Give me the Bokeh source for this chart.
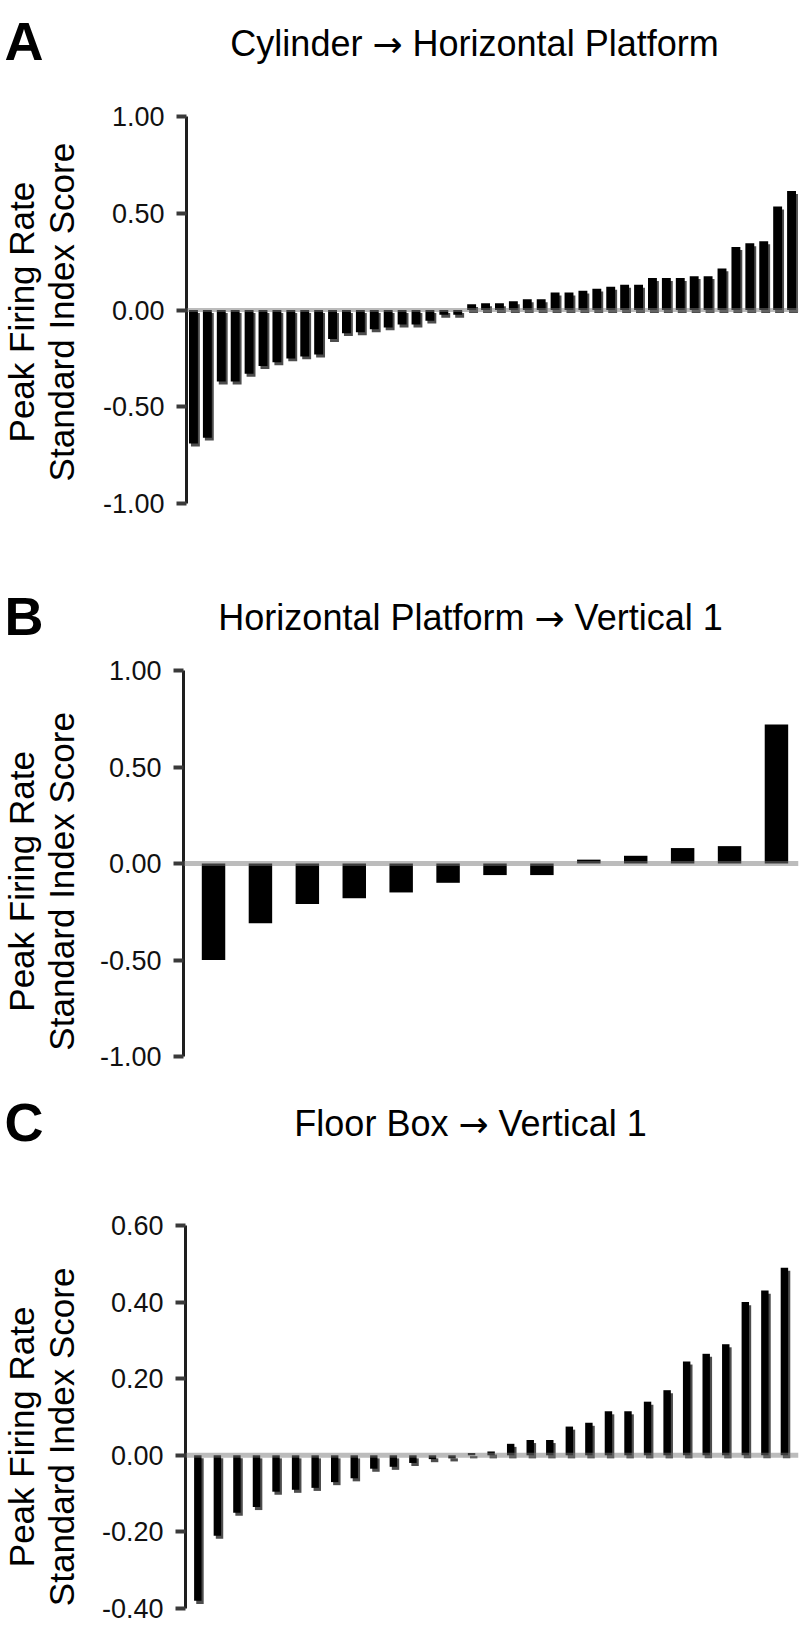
import math
from bokeh.plotting import figure
from bokeh.models import Range1d, FixedTicker, NumeralTickFormatter, Span, ColumnDataSource
from bokeh.layouts import column, row
from bokeh.core.properties import value
from bokeh.embed import file_html
from bokeh.resources import INLINE

FONT = "Liberation Sans"
ARROW_FONT = "DejaVu Sans"

# ---------------- data ----------------
a_values = [-0.69, -0.66, -0.37, -0.37, -0.33, -0.29, -0.27, -0.25, -0.24, -0.23,
            -0.15, -0.12, -0.115, -0.10, -0.09, -0.075, -0.075, -0.055, -0.025, -0.025,
            0.03, 0.035, 0.035, 0.045, 0.055, 0.055, 0.09, 0.09, 0.10, 0.11,
            0.12, 0.13, 0.13, 0.165, 0.165, 0.165, 0.175, 0.175, 0.215, 0.325,
            0.345, 0.355, 0.535, 0.615]
b_values = [-0.50, -0.31, -0.21, -0.18, -0.15, -0.10, -0.06, -0.06, 0.02, 0.04, 0.08, 0.09, 0.72]
c_values = [-0.38, -0.21, -0.15, -0.135, -0.095, -0.09, -0.085, -0.07, -0.06, -0.035,
            -0.03, -0.02, -0.01, -0.008, 0.006, 0.01, 0.03, 0.04, 0.04, 0.075,
            0.085, 0.115, 0.115, 0.14, 0.17, 0.245, 0.265, 0.29, 0.40, 0.43, 0.49]

ab_ticks = [-1.0, -0.5, 0.0, 0.5, 1.0]
c_ticks = [-0.4, -0.2, 0.0, 0.2, 0.4, 0.6]

panel_letters = ["A", "B", "C"]
title_from = ["Cylinder", "Horizontal Platform", "Floor Box"]
title_to = ["Horizontal Platform", "Vertical 1", "Vertical 1"]
ARROW = "\u2192"
ylabel_lines = ["Peak Firing Rate", "Standard Index Score"]

PAGE_W = 800
LABEL_W = 90
TITLE_PX = 36

# Arial / Liberation Sans advance widths (em) used only to lay the title pieces out
_W = {" ": .278, "A": .667, "B": .667, "C": .722, "F": .611, "H": .722, "P": .667, "V": .667,
      "a": .556, "c": .5, "d": .556, "e": .556, "f": .278, "i": .222, "l": .222, "m": .833,
      "n": .556, "o": .556, "r": .333, "t": .278, "x": .5, "y": .5, "z": .5, "1": .556}


def text_w(s, px):
    return sum(_W.get(ch, .556) for ch in s) * px


def bare_fig(w, h, x0, x1, y_bottom, y_top):
    f = figure(width=w, height=h, x_range=Range1d(x0, x1), y_range=Range1d(y_bottom, y_top),
               x_axis_location=None, y_axis_location=None, toolbar_location=None,
               output_backend="svg", tools="", min_border=0)
    f.min_border_left = f.min_border_right = f.min_border_top = f.min_border_bottom = 0
    f.outline_line_color = None
    f.xgrid.visible = False
    f.ygrid.visible = False
    return f


def header(page_top, h, letter, t_from, t_to, letter_y, title_y, title_cx):
    f = bare_fig(PAGE_W, h, 0, PAGE_W, page_top + h, page_top)
    f.text(x=[4], y=[letter_y], text=[letter], text_font=value(FONT),
           text_font_size=value("54px"), text_font_style=value("bold"),
           text_align=value("left"), text_baseline=value("alphabetic"), text_color="#000000")
    wl = text_w(t_from, TITLE_PX)
    wr = text_w(t_to, TITLE_PX)
    sp = text_w(" ", TITLE_PX)
    wa = 0.838 * TITLE_PX
    x0 = title_cx - (wl + wr + 2 * sp + wa) / 2.0
    f.text(x=[x0], y=[title_y], text=[t_from], text_font=value(FONT),
           text_font_size=value("%dpx" % TITLE_PX), text_align=value("left"),
           text_baseline=value("alphabetic"), text_color="#000000")
    f.text(x=[x0 + wl + sp + wa / 2.0], y=[title_y + 1], text=[ARROW], text_font=value(ARROW_FONT),
           text_font_size=value("%dpx" % TITLE_PX), text_align=value("center"),
           text_baseline=value("alphabetic"), text_color="#000000")
    f.text(x=[x0 + wl + 2 * sp + wa], y=[title_y], text=[t_to], text_font=value(FONT),
           text_font_size=value("%dpx" % TITLE_PX), text_align=value("left"),
           text_baseline=value("alphabetic"), text_color="#000000")
    return f


def body(vals, ticks, yr, xr, page_top, h, frame_left, frame_top, frame_bottom,
         bar_w, sh_dx, sh_dy, zero_w):
    lf = bare_fig(LABEL_W, h, 0, LABEL_W, page_top + h, page_top)
    ymid = (frame_top + frame_bottom) / 2.0 + 23
    lf.text(x=[21, 61], y=[ymid, ymid], text=ylabel_lines, angle=math.pi / 2,
            text_font=value(FONT), text_font_size=value("35px"),
            text_align=value("center"), text_baseline=value("alphabetic"), text_color="#000000")

    bl = frame_left - LABEL_W
    fw = PAGE_W - 2 - frame_left
    bt = frame_top - page_top
    fh = frame_bottom - frame_top
    bb = h - bt - fh
    p = figure(width=PAGE_W - LABEL_W, height=h,
               frame_width=fw, frame_height=fh,
               min_border_left=bl, min_border_right=2,
               min_border_top=bt, min_border_bottom=bb,
               x_range=Range1d(*xr), y_range=Range1d(*yr),
               x_axis_location=None, toolbar_location=None,
               output_backend="svg", tools="")
    p.outline_line_color = None
    p.xgrid.visible = False
    p.ygrid.visible = False

    xs = list(range(len(vals)))
    src = ColumnDataSource(dict(
        x=xs, top=vals, bottom=[0.0] * len(vals),
        sx=[x + sh_dx for x in xs],
        stop=[v - sh_dy for v in vals],
        sbottom=[-sh_dy] * len(vals)))
    if sh_dx or sh_dy:
        p.vbar(x="sx", top="stop", bottom="sbottom", width=bar_w, source=src,
               fill_color="#4d4d4d", line_color=None)
    p.vbar(x="x", top="top", bottom="bottom", width=bar_w, source=src,
           fill_color="#000000", line_color=None)

    p.add_layout(Span(location=0, dimension="width", line_color="#7a7a7a",
                      line_alpha=0.5, line_width=zero_w))

    ax = p.yaxis[0]
    ax.ticker = FixedTicker(ticks=ticks)
    ax.formatter = NumeralTickFormatter(format="0.00")
    ax.major_label_text_font = FONT
    ax.major_label_text_font_size = "27px"
    ax.major_label_text_color = "#111111"
    ax.axis_line_width = 3
    ax.axis_line_color = "#1e1e1e"
    ax.major_tick_line_width = 4
    ax.major_tick_line_color = "#3a3a3a"
    ax.major_tick_out = 10
    ax.major_tick_in = 0
    ax.minor_tick_line_color = None
    ax.major_label_standoff = 12
    return row(lf, p, spacing=0)


hA = header(0, 100, panel_letters[0], title_from[0], title_to[0],
            letter_y=40, title_y=43, title_cx=474)
bA = body(a_values, ab_ticks, (-1.0, 1.0), (-0.5, 43.5), page_top=100, h=460,
          frame_left=186, frame_top=116, frame_bottom=503,
          bar_w=0.64, sh_dx=0.14, sh_dy=0.015, zero_w=4)

hB = header(560, 90, panel_letters[1], title_from[1], title_to[1],
            letter_y=615, title_y=617, title_cx=471)
bB = body(b_values, ab_ticks, (-1.0, 1.0), (-0.64, 12.47), page_top=650, h=432,
          frame_left=183, frame_top=670, frame_bottom=1056,
          bar_w=0.5, sh_dx=0.0, sh_dy=0.0, zero_w=5)

hC = header(1082, 118, panel_letters[2], title_from[2], title_to[2],
            letter_y=1121, title_y=1123, title_cx=471)
bC = body(c_values, c_ticks, (-0.4, 0.6), (-0.63, 30.72), page_top=1200, h=434,
          frame_left=185, frame_top=1225, frame_bottom=1608,
          bar_w=0.38, sh_dx=0.11, sh_dy=0.008, zero_w=5)

layout = column(hA, bA, hB, bB, hC, bC, spacing=0)
open("out.html", "w").write(file_html(layout, INLINE))
